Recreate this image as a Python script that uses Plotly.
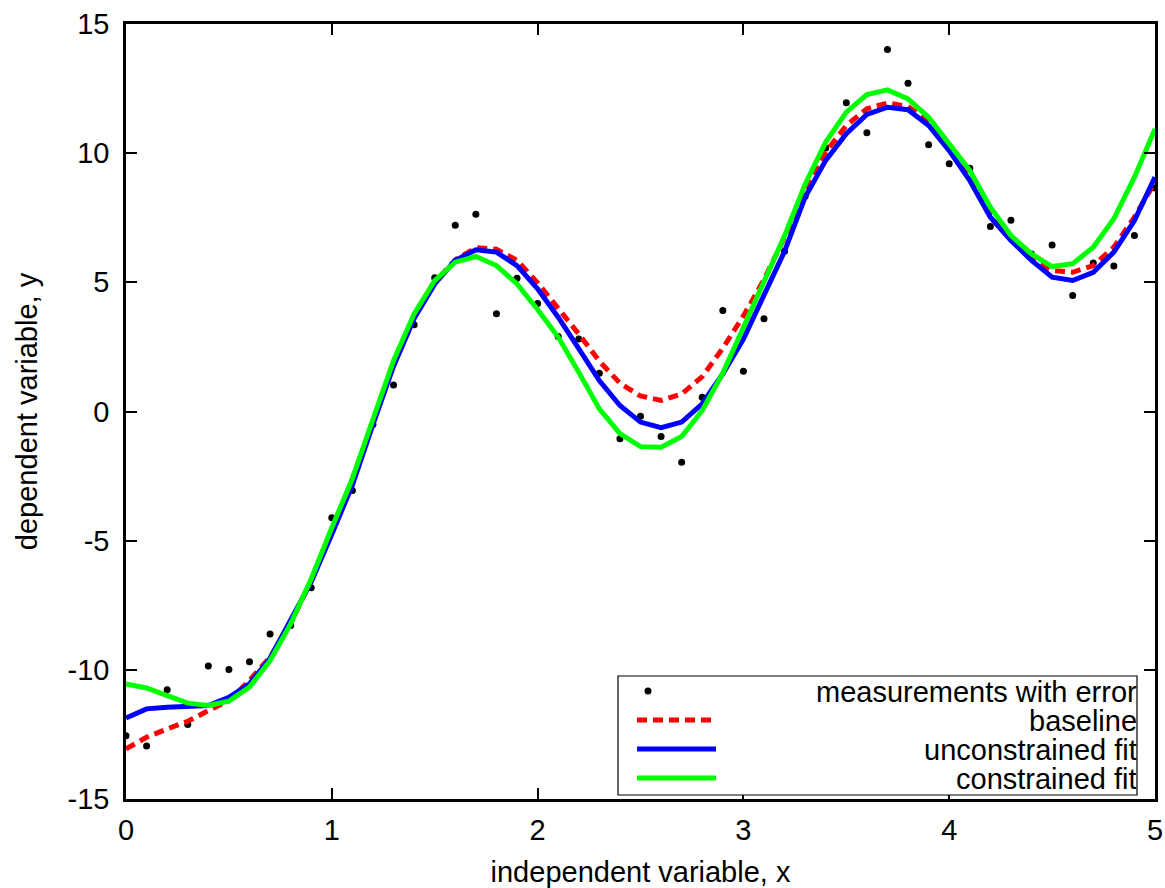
import plotly.graph_objects as go

x_vals = [0.0, 0.1, 0.2, 0.3, 0.4, 0.5, 0.6, 0.7, 0.8, 0.9,
          1.0, 1.1, 1.2, 1.3, 1.4, 1.5, 1.6, 1.7, 1.8, 1.9,
          2.0, 2.1, 2.2, 2.3, 2.4, 2.5, 2.6, 2.7, 2.8, 2.9,
          3.0, 3.1, 3.2, 3.3, 3.4, 3.5, 3.6, 3.7, 3.8, 3.9,
          4.0, 4.1, 4.2, 4.3, 4.4, 4.5, 4.6, 4.7, 4.8, 4.9, 5.0]

measurements = [-12.55, -12.95, -10.77, -12.12, -9.85, -9.99, -9.69, -8.61, -8.28, -6.82,
                -4.11, -3.06, -0.5, 1.03, 3.36, 5.18, 7.21, 7.64, 3.78, 5.16,
                4.18, 2.90, 2.81, 1.48, -1.05, -0.18, -0.97, -1.96, 0.55, 3.91,
                1.56, 3.59, 6.20, 8.33, 10.2, 11.95, 10.79, 14.01, 12.71, 10.33,
                9.59, 9.42, 7.16, 7.40, 6.1, 6.45, 4.49, 5.75, 5.63, 6.81, 8.65]

baseline = [-13.06, -12.61, -12.29, -11.99, -11.58, -11.19, -10.41, -9.51, -8.21, -6.54,
            -4.65, -2.6, -0.4, 1.85, 3.7, 5.0, 5.88, 6.34, 6.28, 5.85,
            4.98, 4.0, 3.0, 1.95, 1.1, 0.6, 0.43, 0.68, 1.35, 2.45,
            3.7, 5.1, 6.75, 8.56, 10.04, 11.07, 11.72, 11.94, 11.81, 11.2,
            10.15, 9.07, 7.66, 6.68, 5.97, 5.46, 5.39, 5.65, 6.36, 7.52, 8.88]

unconstrained = [-11.86, -11.51, -11.45, -11.42, -11.38, -11.06, -10.54, -9.55, -8.12, -6.6,
                 -4.75, -2.85, -0.5, 1.75, 3.6, 4.94, 5.85, 6.26, 6.17, 5.65,
                 4.75, 3.65, 2.43, 1.2, 0.23, -0.41, -0.63, -0.41, 0.3, 1.46,
                 2.8, 4.45, 6.2, 8.3, 9.72, 10.75, 11.5, 11.78, 11.68, 11.07,
                 10.1, 8.94, 7.52, 6.62, 5.85, 5.2, 5.07, 5.39, 6.17, 7.39, 9.07]

constrained = [-10.55, -10.7, -11.0, -11.29, -11.38, -11.21, -10.67, -9.64, -8.22, -6.48,
               -4.5, -2.6, -0.3, 1.97, 3.78, 5.07, 5.78, 6.0, 5.65, 4.94,
               3.95, 2.88, 1.52, 0.10, -0.86, -1.36, -1.38, -0.97, 0.04, 1.49,
               3.25, 5.0, 6.8, 8.8, 10.43, 11.59, 12.27, 12.45, 12.1, 11.39,
               10.35, 9.33, 7.91, 6.81, 6.1, 5.61, 5.72, 6.36, 7.46, 9.07, 10.94]

x_ticks = [0, 1, 2, 3, 4, 5]
y_ticks = [-15, -10, -5, 0, 5, 10, 15]

legend_labels = ["measurements with error", "baseline", "unconstrained fit", "constrained fit"]

FONT = "Liberation Sans, Arial, Helvetica, sans-serif"
FS = 29

fig = go.Figure()
fig.add_trace(go.Scatter(x=x_vals, y=measurements, mode="markers",
                         marker=dict(color="black", size=7), name=legend_labels[0]))
fig.add_trace(go.Scatter(x=x_vals, y=baseline, mode="lines",
                         line=dict(color="#ff0000", width=5, dash="10px,6px"), name=legend_labels[1]))
fig.add_trace(go.Scatter(x=x_vals, y=unconstrained, mode="lines",
                         line=dict(color="#0000ff", width=5), name=legend_labels[2]))
fig.add_trace(go.Scatter(x=x_vals, y=constrained, mode="lines",
                         line=dict(color="#00ff00", width=5), name=legend_labels[3]))

axis_common = dict(showgrid=False, zeroline=False, showline=True, linecolor="black",
                   linewidth=2.5, mirror="ticks", ticks="inside", ticklen=11,
                   tickwidth=2, tickcolor="black", automargin=False,
                   tickfont=dict(family=FONT, size=FS, color="black"))

fig.update_xaxes(range=[0, 5], tickvals=x_ticks, ticktext=[str(v) for v in x_ticks],
                 ticklabelstandoff=3,
                 title=dict(text="independent variable, x", font=dict(family=FONT, size=FS, color="black"),
                            standoff=19),
                 **axis_common)
fig.update_yaxes(range=[-15, 15], tickvals=y_ticks, ticktext=[str(v) for v in y_ticks],
                 ticklabelstandoff=8,
                 title=dict(text="dependent variable, y", font=dict(family=FONT, size=FS, color="black"),
                            standoff=22),
                 **axis_common)

# Custom legend (gnuplot style: sample at left, text right-aligned)
W, H = 1029.0, 775.0
def px(xp):
    return (xp - 126) / W
def py(yp):
    return (799 - yp) / H

shapes = [dict(type="rect", xref="paper", yref="paper", x0=px(618), x1=px(1137),
               y0=py(795), y1=py(676), line=dict(color="black", width=1.2),
               fillcolor="white", layer="above")]
rows = [691, 720, 749, 778]
styles = [None,
          dict(color="#ff0000", width=5, dash="10px,6px"),
          dict(color="#0000ff", width=5),
          dict(color="#00ff00", width=5)]
annotations = []
for i, (r, lab) in enumerate(zip(rows, legend_labels)):
    if styles[i] is None:
        shapes.append(dict(type="circle", xref="paper", yref="paper",
                           x0=px(644.5), x1=px(651.5), y0=py(694.5), y1=py(687.5),
                           fillcolor="black", line=dict(color="black", width=0), layer="above"))
    else:
        shapes.append(dict(type="line", xref="paper", yref="paper",
                           x0=px(637), x1=px(716), y0=py(r), y1=py(r),
                           line=styles[i], layer="above"))
    annotations.append(dict(text=lab, xref="paper", yref="paper", x=px(1139), y=py(r),
                            xanchor="right", yanchor="middle", showarrow=False,
                            height=27, valign="middle",
                            font=dict(family=FONT, size=FS, color="black")))

fig.update_layout(width=1165, height=888, showlegend=False,
                  paper_bgcolor="white", plot_bgcolor="white",
                  margin=dict(l=126, r=10, t=24, b=89, autoexpand=False),
                  shapes=shapes, annotations=annotations)

post = (
    "document.documentElement.style.margin='0px';"
    "document.documentElement.style.overflow='hidden';"
    "document.body.style.margin='0px';"
    "document.body.style.overflow='hidden';"
)
fig.write_html("out.html", config={"displayModeBar": False}, post_script=post)
